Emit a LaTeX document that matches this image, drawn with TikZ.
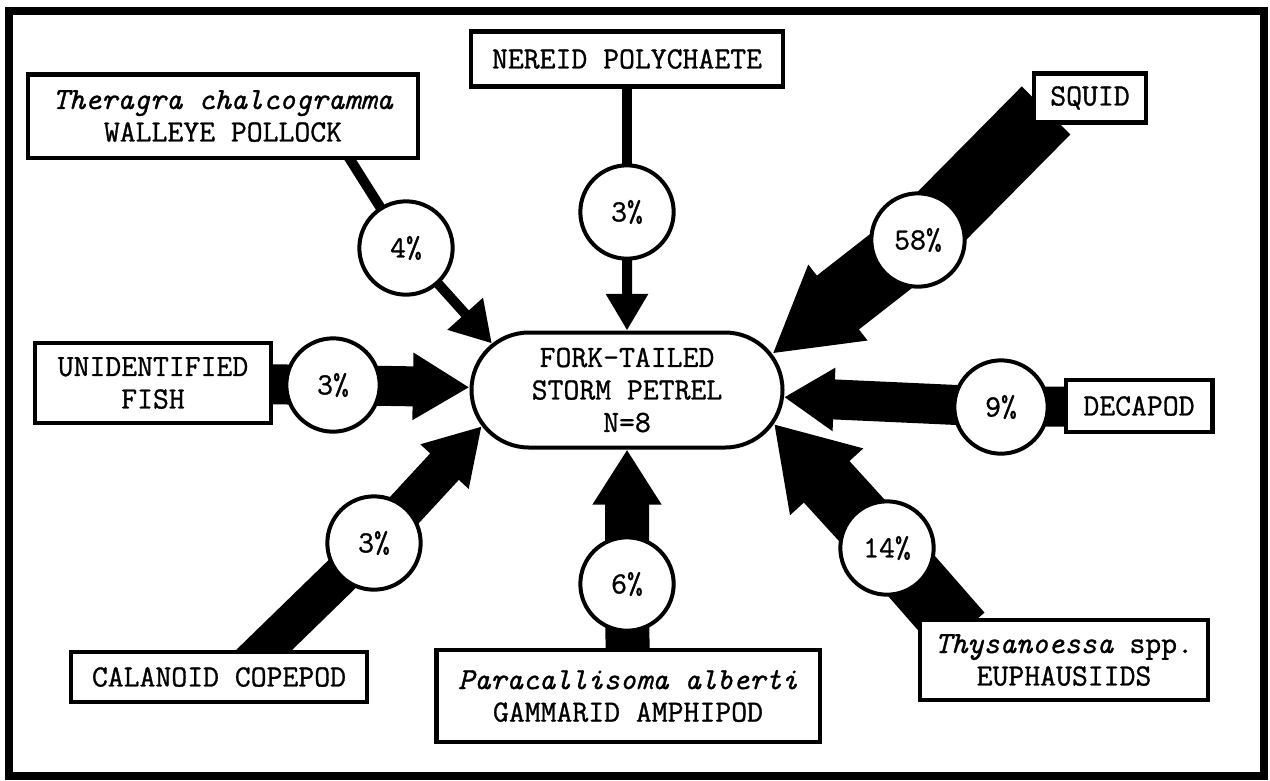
\documentclass[tikz,border=0pt]{standalone}
\usepackage{fontspec}
\setmonofont{Latin Modern Mono}[FakeBold=1]
\usetikzlibrary{arrows.meta,shapes.misc,backgrounds}

\begin{document}
\begin{tikzpicture}[x=0.6pt,y=-0.6pt,
  font=\ttfamily\fontsize{18.5}{19.5}\selectfont,
  box/.style={draw,line width=2.6pt,fill=white,inner sep=0pt,align=center},
  pct/.style={draw,circle,line width=2.4pt,fill=white,minimum size=56pt,inner sep=0pt},
  band/.style={line width=#1,shorten <=-12pt},
  feed/.style n args={3}{line width=#1,-{Triangle[length=#2,width=#3]}}]
\useasboundingbox (0,0) rectangle (1270,780);
\draw[line width=4.8pt] (9,11) rectangle (1264,776);

% predator in the middle
\node[draw,rounded rectangle,line width=2.4pt,fill=white,align=center,
  minimum width=186.6pt,minimum height=69pt,inner sep=0pt] (petrel) at (627,390)
  {FORK-TAILED\\STORM PETREL\\N=8};

% prey boxes
\node[box,minimum width=234pt,minimum height=50pt] (theragra) at (223,116) {\textit{Theragra chalcogramma}\\WALLEYE POLLOCK};
\node[box,minimum width=187pt,minimum height=33pt] (nereid) at (627,59) {NEREID POLYCHAETE};
\node[box,minimum width=67pt,minimum height=29.4pt] (squid) at (1090,98) {SQUID};
\node[box,minimum width=141.6pt,minimum height=48pt] (fish) at (153,383) {UNIDENTIFIED\\FISH};
\node[box,minimum width=88pt,minimum height=31pt] (decapod) at (1139,406) {DECAPOD};
\node[box,minimum width=177.6pt,minimum height=30pt] (calanoid) at (219,677) {CALANOID COPEPOD};
\node[box,minimum width=230pt,minimum height=55pt] (gammarid) at (628,696) {\textit{Paracallisoma alberti}\\GAMMARID AMPHIPOD};
\node[box,minimum width=173pt,minimum height=48pt] (euphausiid) at (1064,660) {\textit{Thysanoessa} spp.\\EUPHAUSIIDS};

% percentages of the diet
\node[pct] (p4) at (406,248) {4\%};
\node[pct] (p3n) at (627,212) {3\%};
\node[pct] (p58) at (918,240) {58\%};
\node[pct] (p3f) at (333,385) {3\%};
\node[pct] (p9) at (1001,407) {9\%};
\node[pct] (p3c) at (374,543) {3\%};
\node[pct] (p6) at (627,584) {6\%};
\node[pct] (p14) at (887,548) {14\%};

% bands, width ~ share of the diet
\begin{scope}[on background layer]
\draw[band=6pt] (theragra.-19) -- (p4.center);
\draw[feed={6pt}{24pt}{27pt}] (p4.center) -- (petrel.161);
\draw[band=6pt] (nereid.center) -- (p3n.center);
\draw[feed={6pt}{22pt}{24pt}] (p3n.center) -- (petrel);
\draw[band=41pt] (squid.south west) -- (p58.center);
\draw[feed={41pt}{50pt}{54pt}] (p58.center) -- (petrel.14);
\draw[band=24pt] (fish.center) -- (p3f.center);
\draw[feed={24pt}{34pt}{38pt}] (p3f.center) -- (petrel);
\draw[band=24pt] (decapod.center) -- (p9.center);
\draw[feed={24pt}{30pt}{36pt}] (p9.center) -- (petrel);
\draw[band=23.4pt] (calanoid.31) -- (p3c.center);
\draw[feed={23.4pt}{33pt}{37pt}] (p3c.center) -- (petrel.-166);
\draw[band=26.4pt] (gammarid.center) -- (p6.center);
\draw[feed={26.4pt}{33pt}{39pt}] (p6.center) -- (petrel);
\draw[band=37pt] (euphausiid.160) -- (p14.center);
\draw[feed={37pt}{47pt}{56pt}] (p14.center) -- (petrel.-13.5);
\end{scope}
\end{tikzpicture}
\end{document}
